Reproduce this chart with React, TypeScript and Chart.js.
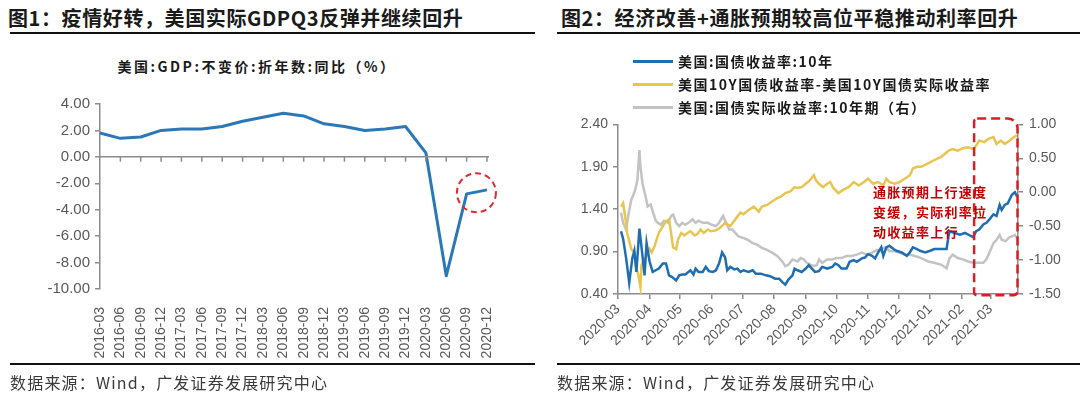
import React, { useEffect, useRef } from 'react';
import { Chart, registerables } from 'chart.js';
Chart.register(...registerables);

// ---------- Left chart data ----------
const gdpLabels = [
  '2016-03', '2016-06', '2016-09', '2016-12', '2017-03', '2017-06', '2017-09', '2017-12',
  '2018-03', '2018-06', '2018-09', '2018-12', '2019-03', '2019-06', '2019-09', '2019-12',
  '2020-03', '2020-06', '2020-09', '2020-12',
];
const gdpValues = [1.8, 1.4, 1.5, 2.0, 2.1, 2.1, 2.3, 2.7, 3.0, 3.3, 3.1, 2.5, 2.3, 2.0, 2.1, 2.3, 0.3, -9.0, -2.8, -2.5];
const gdpTicks = [4, 2, 0, -2, -4, -6, -8, -10];

// ---------- Right chart data (x = days since 2020-03-01) ----------
const monthLabels = ['2020-03', '2020-04', '2020-05', '2020-06', '2020-07', '2020-08', '2020-09', '2020-10', '2020-11', '2020-12', '2021-01', '2021-02', '2021-03'];
const monthDays = [0, 31, 61, 92, 122, 153, 184, 214, 245, 275, 306, 337, 365];
const leftTicks = [0.4, 0.9, 1.4, 1.9, 2.4];
const rightTicks = [-1.5, -1.0, -0.5, 0.0, 0.5, 1.0];

const nominalDays = [3, 5, 8, 11, 14, 16, 18, 21, 24, 26, 28, 31, 34, 37, 40, 44, 47, 50, 53, 57, 60, 63, 66, 71, 74, 76, 79, 83, 86, 89, 93, 96, 99, 102, 105, 107, 110, 114, 117, 120, 123, 128, 132, 135, 140, 145, 149, 154, 158, 161, 164, 167, 171, 173, 176, 180, 184, 187, 190, 193, 197, 200, 205, 210, 213, 216, 219, 224, 227, 231, 234, 239, 242, 245, 249, 252, 255, 258, 260, 263, 266, 270, 273, 278, 283, 286, 289, 293, 296, 301, 306, 310, 315, 322, 324, 325, 330, 335, 340, 345, 348, 351, 354, 358, 361, 364, 368, 371, 374, 376, 379, 382, 386, 389, 391];
const nominalVals = [1.14, 1.05, 0.82, 0.53, 0.82, 0.91, 0.66, 1.17, 0.85, 0.62, 1.0, 0.78, 0.66, 0.68, 0.70, 0.76, 0.76, 0.62, 0.60, 0.56, 0.62, 0.63, 0.63, 0.68, 0.63, 0.70, 0.66, 0.66, 0.72, 0.67, 0.66, 0.68, 0.76, 0.89, 0.83, 0.68, 0.72, 0.69, 0.70, 0.66, 0.68, 0.66, 0.68, 0.64, 0.64, 0.62, 0.61, 0.58, 0.58, 0.54, 0.51, 0.57, 0.62, 0.70, 0.68, 0.66, 0.70, 0.74, 0.70, 0.66, 0.67, 0.72, 0.70, 0.72, 0.76, 0.74, 0.70, 0.70, 0.78, 0.80, 0.78, 0.82, 0.83, 0.87, 0.85, 0.82, 0.89, 0.95, 0.85, 0.95, 0.97, 0.93, 0.91, 0.89, 0.85, 0.89, 0.95, 0.93, 0.91, 0.89, 0.91, 0.93, 0.93, 0.93, 1.09, 1.14, 1.12, 1.10, 1.12, 1.09, 1.07, 1.14, 1.16, 1.22, 1.24, 1.28, 1.34, 1.32, 1.45, 1.39, 1.45, 1.47, 1.57, 1.60, 1.55];

const breakevenDays = [3, 5, 7, 9, 13, 16, 18, 20, 22, 23, 26, 28, 31, 33, 36, 38, 40, 44, 47, 50, 52, 54, 57, 59, 62, 65, 68, 71, 75, 78, 81, 84, 88, 91, 96, 100, 105, 110, 115, 120, 123, 128, 133, 138, 141, 146, 151, 156, 160, 164, 169, 173, 176, 180, 184, 188, 192, 194, 197, 201, 205, 208, 211, 216, 221, 226, 231, 236, 241, 245, 250, 255, 260, 263, 266, 271, 276, 281, 286, 289, 293, 297, 304, 310, 317, 324, 328, 333, 338, 343, 348, 351, 354, 359, 363, 368, 371, 375, 379, 384, 388, 391];
const breakevenVals = [1.43, 1.47, 1.32, 1.12, 0.93, 0.89, 0.70, 0.62, 0.48, 0.74, 0.81, 0.85, 0.93, 0.89, 0.97, 1.05, 1.12, 1.20, 1.26, 1.28, 1.12, 0.95, 0.93, 1.05, 1.12, 1.09, 1.12, 1.14, 1.09, 1.11, 1.16, 1.12, 1.16, 1.14, 1.15, 1.18, 1.24, 1.20, 1.28, 1.36, 1.34, 1.39, 1.43, 1.37, 1.43, 1.45, 1.49, 1.53, 1.55, 1.59, 1.61, 1.66, 1.65, 1.66, 1.70, 1.74, 1.80, 1.74, 1.70, 1.66, 1.70, 1.72, 1.65, 1.59, 1.63, 1.66, 1.72, 1.68, 1.72, 1.76, 1.70, 1.72, 1.68, 1.76, 1.72, 1.70, 1.72, 1.76, 1.80, 1.88, 1.90, 1.90, 1.94, 1.98, 2.02, 2.09, 2.11, 2.09, 2.12, 2.13, 2.11, 2.15, 2.21, 2.19, 2.23, 2.25, 2.17, 2.21, 2.17, 2.21, 2.25, 2.27];

const realDays = [3, 5, 8, 10, 13, 15, 17, 19, 21, 22, 24, 27, 29, 32, 34, 37, 39, 42, 45, 49, 52, 54, 57, 60, 63, 66, 70, 73, 76, 79, 83, 88, 92, 96, 99, 103, 106, 109, 112, 115, 118, 122, 127, 132, 136, 141, 146, 151, 156, 161, 164, 167, 171, 176, 179, 182, 185, 189, 192, 195, 197, 200, 205, 210, 214, 219, 224, 229, 234, 239, 244, 249, 254, 257, 260, 263, 266, 271, 276, 281, 286, 291, 297, 304, 310, 317, 322, 325, 328, 333, 338, 343, 348, 353, 358, 361, 364, 368, 371, 374, 376, 380, 383, 386, 389, 391];
const realVals = [-0.30, -0.45, -0.55, -0.35, -0.11, -0.04, 0.04, 0.18, 0.62, 0.38, 0.13, -0.06, -0.21, -0.18, -0.28, -0.42, -0.45, -0.48, -0.42, -0.45, -0.35, -0.33, -0.45, -0.50, -0.45, -0.48, -0.44, -0.40, -0.45, -0.42, -0.45, -0.45, -0.48, -0.50, -0.45, -0.35, -0.45, -0.55, -0.55, -0.60, -0.65, -0.67, -0.70, -0.75, -0.77, -0.82, -0.85, -0.89, -0.94, -1.02, -1.09, -1.07, -0.99, -1.02, -0.97, -0.99, -1.04, -1.07, -1.09, -1.07, -0.99, -1.04, -0.99, -0.99, -0.97, -0.97, -0.94, -0.94, -0.92, -0.89, -0.92, -0.89, -0.85, -0.87, -0.82, -0.82, -0.87, -0.87, -0.89, -0.92, -0.92, -0.94, -0.97, -1.02, -1.04, -1.07, -1.12, -0.97, -0.92, -0.97, -0.99, -1.02, -1.04, -1.04, -1.04, -0.99, -0.89, -0.75, -0.70, -0.63, -0.70, -0.72, -0.67, -0.65, -0.63, -0.68];

const xMaxDay = 392;
const highlightBox = { startDay: 349, endDay: 391.5, top: 2.47, bottom: 0.385 };
const highlightCircle = { index: 18.48, value: -2.72, radius: 19.5 };

const seriesNames = ['美国:国债收益率:10年', '美国10Y国债收益率-美国10Y国债实际收益率', '美国:国债实际收益率:10年期（右）'];
const seriesColors = ['#1f6eb1', '#e8c550', '#c3c3c3'];

const TICK_FONT = { family: 'Liberation Sans, Arial, sans-serif', size: 14 };
const Y_TICK_FONT_LEFT = { family: 'Liberation Sans, Arial, sans-serif', size: 15 };
const TICK_COLOR = '#595959';
const AXIS_COLOR = '#8c8c8c';
const CJK = '"Noto Sans CJK SC", "Noto Sans", sans-serif';

function LeftChart() {
  const ref = useRef<HTMLCanvasElement>(null);
  useEffect(() => {
    const zeroAxis = {
      id: 'zeroAxis',
      afterDatasetsDraw(chart: any) {
        const { ctx, chartArea, scales } = chart;
        const y0 = scales.y.getPixelForValue(0);
        ctx.save();
        ctx.strokeStyle = AXIS_COLOR;
        ctx.lineWidth = 1.5;
        ctx.beginPath();
        ctx.moveTo(chartArea.left, y0);
        ctx.lineTo(chartArea.right + 2, y0);
        for (let i = 1; i < gdpLabels.length; i++) {
          const x = scales.x.getPixelForValue(i);
          ctx.moveTo(x, y0);
          ctx.lineTo(x, y0 + 5);
        }
        ctx.stroke();
        ctx.restore();
      },
      afterDraw(chart: any) {
        const { ctx, scales } = chart;
        const cx = scales.x.getPixelForValue(highlightCircle.index);
        const cy = scales.y.getPixelForValue(highlightCircle.value);
        ctx.save();
        ctx.strokeStyle = '#e02b2b';
        ctx.lineWidth = 2;
        ctx.setLineDash([6, 4]);
        ctx.beginPath();
        ctx.arc(cx, cy, highlightCircle.radius, 0, Math.PI * 2);
        ctx.stroke();
        ctx.restore();
      },
    };
    const chart = new Chart(ref.current!, {
      type: 'line',
      data: {
        labels: gdpLabels,
        datasets: [{
          data: gdpValues,
          borderColor: '#2b78b8',
          borderWidth: 3,
          pointRadius: 0,
          tension: 0,
          borderJoinStyle: 'round',
        }],
      },
      options: {
        responsive: false,
        animation: false,
        devicePixelRatio: 1,
        layout: { padding: { top: 11, right: 53, left: 0, bottom: 0 } },
        plugins: { legend: { display: false }, tooltip: { enabled: false } },
        scales: {
          x: {
            type: 'category',
            offset: false,
            grid: { display: false },
            border: { display: false },
            ticks: { autoSkip: false, minRotation: 90, maxRotation: 90, padding: 10, color: TICK_COLOR, font: TICK_FONT },
            afterFit: (s: any) => { s.height = 76; },
          },
          y: {
            min: -10, max: 4,
            grid: { drawOnChartArea: false, drawTicks: true, tickLength: 5, color: AXIS_COLOR, lineWidth: 1.5 },
            border: { display: true, color: AXIS_COLOR, width: 1.5 },
            ticks: { padding: 5, color: TICK_COLOR, font: Y_TICK_FONT_LEFT, callback: (v: any) => Number(v).toFixed(2) },
            afterBuildTicks: (s: any) => { s.ticks = gdpTicks.map((v) => ({ value: v })); },
            afterFit: (s: any) => { s.width = 100; },
          },
        },
      },
      plugins: [zeroAxis],
    } as any);
    return () => chart.destroy();
  }, []);
  return <canvas ref={ref} width={540} height={275} style={{ position: 'absolute', left: 0, top: 90, width: 540, height: 275 }} />;
}

function RightChart() {
  const ref = useRef<HTMLCanvasElement>(null);
  useEffect(() => {
    const boxPlugin = {
      id: 'boxPlugin',
      afterDraw(chart: any) {
        const { ctx, scales } = chart;
        const x1 = scales.x.getPixelForValue(highlightBox.startDay);
        const x2 = scales.x.getPixelForValue(highlightBox.endDay);
        const y1 = scales.y.getPixelForValue(highlightBox.top);
        const y2 = scales.y.getPixelForValue(highlightBox.bottom);
        ctx.save();
        ctx.strokeStyle = '#d42222';
        ctx.lineWidth = 2.5;
        ctx.setLineDash([9, 5]);
        ctx.beginPath();
        ctx.roundRect(x1, y1, x2 - x1, y2 - y1, [3, 10, 4, 3]);
        ctx.stroke();
        ctx.restore();
      },
    };
    const mk = (days: number[], vals: number[]) => days.map((d, i) => ({ x: d, y: vals[i] }));
    const chart = new Chart(ref.current!, {
      type: 'line',
      data: {
        datasets: [
          { data: mk(nominalDays, nominalVals), borderColor: seriesColors[0], borderWidth: 2.5, pointRadius: 0, tension: 0, yAxisID: 'y' },
          { data: mk(breakevenDays, breakevenVals), borderColor: seriesColors[1], borderWidth: 2.5, pointRadius: 0, tension: 0, yAxisID: 'y' },
          { data: mk(realDays, realVals), borderColor: seriesColors[2], borderWidth: 2.5, pointRadius: 0, tension: 0, yAxisID: 'y1' },
        ],
      },
      options: {
        responsive: false,
        animation: false,
        devicePixelRatio: 1,
        layout: { padding: { top: 12, right: 0, left: 0, bottom: 0 } },
        plugins: { legend: { display: false }, tooltip: { enabled: false } },
        scales: {
          x: {
            type: 'linear', min: 0, max: xMaxDay,
            grid: { drawOnChartArea: false, drawTicks: true, tickLength: 5, color: AXIS_COLOR, lineWidth: 1.5 },
            border: { display: true, color: AXIS_COLOR, width: 1.5 },
            ticks: {
              autoSkip: false, minRotation: 45, maxRotation: 45, padding: 2, color: TICK_COLOR, font: TICK_FONT,
              callback: (v: any) => { const i = monthDays.indexOf(Number(v)); return i >= 0 ? monthLabels[i] : ''; },
            },
            afterBuildTicks: (s: any) => { s.ticks = monthDays.map((v) => ({ value: v })); },
            afterFit: (s: any) => { s.height = 66; },
          },
          y: {
            position: 'left', min: 0.4, max: 2.4,
            grid: { drawOnChartArea: false, drawTicks: true, tickLength: 5, color: AXIS_COLOR, lineWidth: 1.5 },
            border: { display: true, color: AXIS_COLOR, width: 1.5 },
            ticks: { padding: 5, color: TICK_COLOR, font: TICK_FONT, callback: (v: any) => Number(v).toFixed(2) },
            afterBuildTicks: (s: any) => { s.ticks = leftTicks.map((v) => ({ value: v })); },
            afterFit: (s: any) => { s.width = 78; },
          },
          y1: {
            position: 'right', min: -1.5, max: 1.0,
            grid: { drawOnChartArea: false, drawTicks: true, tickLength: 5, color: AXIS_COLOR, lineWidth: 1.5 },
            border: { display: true, color: AXIS_COLOR, width: 1.5 },
            ticks: { padding: 6, color: TICK_COLOR, font: TICK_FONT, callback: (v: any) => Number(v).toFixed(2) },
            afterBuildTicks: (s: any) => { s.ticks = rightTicks.map((v) => ({ value: v })); },
            afterFit: (s: any) => { s.width = 62; },
          },
        },
      },
      plugins: [boxPlugin],
    } as any);
    return () => chart.destroy();
  }, []);
  return <canvas ref={ref} width={540} height={250} style={{ position: 'absolute', left: 540, top: 110, width: 540, height: 250 }} />;
}

const abs = (o: React.CSSProperties): React.CSSProperties => ({ position: 'absolute', ...o });

export default function App() {
  const titleStyle: React.CSSProperties = { fontFamily: CJK, fontWeight: 700, fontSize: 20, lineHeight: '22px', color: '#1a1a1a', letterSpacing: '0.6px', whiteSpace: 'nowrap' };
  const sourceStyle: React.CSSProperties = { fontFamily: CJK, fontWeight: 400, fontSize: 16, lineHeight: '18px', color: '#3a3a3a', letterSpacing: '1.2px', whiteSpace: 'nowrap' };
  const legendText: React.CSSProperties = { fontFamily: CJK, fontWeight: 700, fontSize: 14, lineHeight: '18px', color: '#1a1a1a', letterSpacing: '1.5px', whiteSpace: 'nowrap' };
  const legendRows = [61, 84, 107];
  return (
    <div style={{ position: 'fixed', left: 0, top: 0, width: 1080, height: 396, background: '#fff', overflow: 'hidden' }}>
      {/* Left panel */}
      <div style={abs({ left: 8, top: 7, ...titleStyle })}>图1：疫情好转，美国实际GDPQ3反弹并继续回升</div>
      <div style={abs({ left: 10, top: 32, width: 525, height: 2, background: '#111' })} />
      <div style={abs({ left: 0, width: 514, top: 57, textAlign: 'center', ...legendText, letterSpacing: '2.5px' })}>美国:GDP:不变价:折年数:同比（%）</div>
      <LeftChart />
      <div style={abs({ left: 10, top: 363, width: 525, height: 2, background: '#111' })} />
      <div style={abs({ left: 10, top: 373, ...sourceStyle })}>数据来源：Wind，广发证券发展研究中心</div>

      {/* Right panel */}
      <div style={abs({ left: 561, top: 7, ...titleStyle })}>图2：经济改善+通胀预期较高位平稳推动利率回升</div>
      <div style={abs({ left: 557, top: 32, width: 523, height: 2, background: '#111' })} />
      <RightChart />
      {seriesNames.map((n, i) => (
        <React.Fragment key={n}>
          <div style={abs({ left: 633, top: legendRows[i] - 1.5, width: 40, height: 3, background: seriesColors[i] })} />
          <div style={abs({ left: 678, top: legendRows[i] - 9, ...legendText })}>{n}</div>
        </React.Fragment>
      ))}
      <div style={abs({ left: 873, top: 182, fontFamily: CJK, fontWeight: 700, fontSize: 13, lineHeight: '20px', color: '#c40000', letterSpacing: '1.3px', whiteSpace: 'nowrap' })}>
        通胀预期上行速度<br />变缓，实际利率拉<br />动收益率上行
      </div>
      <div style={abs({ left: 557, top: 363, width: 523, height: 2, background: '#111' })} />
      <div style={abs({ left: 557, top: 373, ...sourceStyle })}>数据来源：Wind，广发证券发展研究中心</div>
    </div>
  );
}
